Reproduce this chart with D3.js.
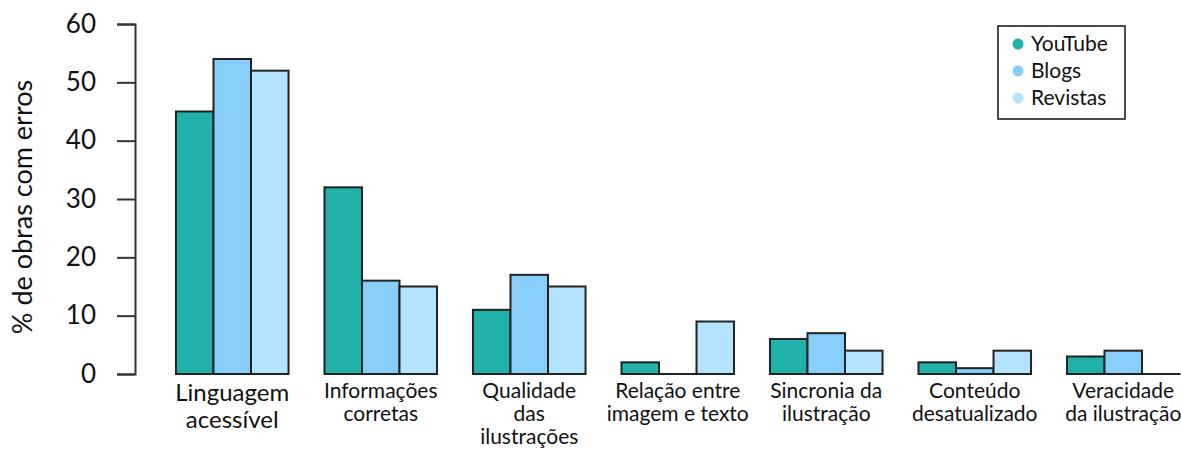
<!DOCTYPE html>
<html>
<head>
<meta charset="utf-8">
<script src="https://cdn.jsdelivr.net/npm/d3@7"></script>
<style>
  body { margin: 0; background: #fff; }
  svg { display: block; font-family: Lato, "Open Sans", sans-serif; }
</style>
</head>
<body>
<svg id="chart" width="1181" height="454"></svg>
<script>
(function() {
  'use strict';

  var
    categories = [
      'Linguagem\nacessível',
      'Informações\ncorretas',
      'Qualidade\ndas\nilustrações',
      'Relação entre\nimagem e texto',
      'Sincronia da\nilustração',
      'Conteúdo\ndesatualizado',
      'Veracidade\nda ilustração'
    ],

    seriesNames = ['YouTube', 'Blogs', 'Revistas'],

    youtube  = [45, 32, 11, 2, 6, 2, 3],
    blogs    = [54, 16, 17, 0, 7, 1, 4],
    revistas = [52, 15, 15, 9, 4, 4, 0],

    yTicks = [0, 10, 20, 30, 40, 50, 60],

    colors = ['#20b2aa', '#87cefa', '#b3e3ff'];

  var series = [youtube, blogs, revistas];

  var
    margin = {top: 24, left: 135},
    innerH = 350,
    svg    = d3.select('#chart'),
    g      = svg.append('g')
               .attr('transform', 'translate(' + margin.left + ',' + margin.top + ')');

  var x0 = d3.scaleBand()
    .domain(categories)
    .range([23, 1062.5])
    .paddingInner(0.242)
    .paddingOuter(0.121);

  var x1 = d3.scaleBand()
    .domain(seriesNames)
    .range([0, x0.bandwidth()]);

  var y = d3.scaleLinear()
    .domain([0, 60])
    .range([innerH, 0]);

  var color = d3.scaleOrdinal().domain(seriesNames).range(colors);

  // y axis
  var yAxis = g.append('g')
    .call(d3.axisLeft(y).tickValues(yTicks).tickSize(18).tickPadding(21));

  yAxis.select('.domain').attr('stroke', '#333').attr('stroke-width', 2);
  yAxis.selectAll('.tick line').attr('stroke', '#333').attr('stroke-width', 2);
  yAxis.selectAll('.tick text')
    .attr('fill', '#111')
    .style('font-size', '26px')
    .style('font-family', 'Lato, sans-serif');

  svg.append('text')
    .attr('transform', 'translate(32,207) rotate(-90)')
    .attr('text-anchor', 'middle')
    .attr('fill', '#111')
    .style('font-size', '27px')
    .text('% de obras com erros');

  // bars
  var rows = categories.map(function(c, i) {
    return {
      cat: c,
      values: seriesNames.map(function(s, j) {
        return {name: s, value: series[j][i]};
      })
    };
  });

  var groups = g.selectAll('.group')
    .data(rows)
    .enter()
    .append('g')
    .attr('class', 'group')
    .attr('transform', function(d) { return 'translate(' + x0(d.cat) + ',0)'; });

  groups.selectAll('rect')
    .data(function(d) { return d.values; })
    .enter()
    .append('rect')
    .attr('x', function(d) { return x1(d.name); })
    .attr('width', x1.bandwidth())
    .attr('y', function(d) { return y(d.value); })
    .attr('height', function(d) { return Math.max(innerH - y(d.value), 0.01); })
    .attr('fill', function(d) { return color(d.name); })
    .attr('stroke', '#222')
    .attr('stroke-width', 2);

  // category labels
  groups.each(function(d, i) {
    var lines = d.cat.split('\n'),
        big   = i === 0,
        size  = big ? 24 : 21,
        lh    = big ? 27 : 23,
        txt   = d3.select(this).append('text')
                  .attr('text-anchor', 'middle')
                  .attr('fill', '#111')
                  .style('font-size', size + 'px');

    lines.forEach(function(line, k) {
      txt.append('tspan')
        .attr('x', x0.bandwidth() / 2)
        .attr('y', (big ? 377 : 374) + k * lh)
        .text(line);
    });
  });

  // legend
  var legend = svg.append('g').attr('transform', 'translate(998,26)');

  legend.append('rect')
    .attr('width', 127)
    .attr('height', 93)
    .attr('fill', '#fff')
    .attr('stroke', '#111')
    .attr('stroke-width', 1.5);

  var items = legend.selectAll('.item')
    .data(seriesNames)
    .enter()
    .append('g')
    .attr('transform', function(d, i) { return 'translate(0,' + (24.5 + i * 27) + ')'; });

  items.append('circle')
    .attr('cx', 20)
    .attr('cy', -6.5)
    .attr('r', 5.5)
    .attr('fill', function(d) { return color(d); });

  items.append('text')
    .attr('x', 33)
    .attr('fill', '#111')
    .style('font-size', '21px')
    .text(function(d) { return d; });
})();
</script>
</body>
</html>
